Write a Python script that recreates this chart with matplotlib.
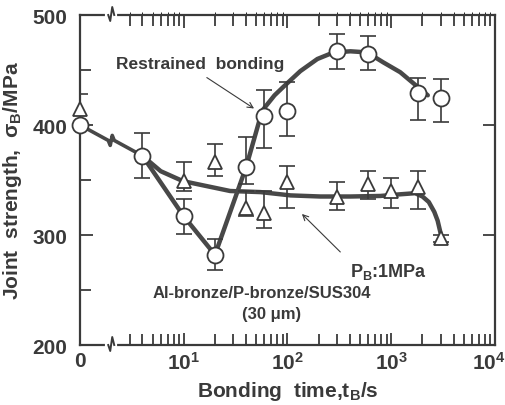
import numpy as np
import matplotlib
matplotlib.use("Agg")
import matplotlib.pyplot as plt
import matplotlib.transforms as mtransforms
from matplotlib.lines import Line2D

# ---------------- data ----------------
# time 0 is drawn at the left edge of the log axis (broken axis)
restr_t = [0, 4, 10, 20, 40, 60, 100, 300, 600, 1800, 3000]
restr_s = [400, 372, 317, 282, 362, 408, 413, 467, 465, 429, 425]
restr_hi = [400, 393, 333, 296, 389, 432, 439, 483, 481, 443, 442]
restr_lo = [400, 352, 301, 268, 346, 379, 390, 451, 450, 405, 403]

press_t = [0, 10, 20, 40, 60, 100, 300, 600, 1000, 1800, 3000]
press_s = [415, 349, 366, 325, 320, 348, 335, 346, 340, 344, 297]
press_hi = [428, 366, 383, 340, 340, 363, 348, 358, 352, 358, 300]
press_lo = [402, 340, 354, 317, 306, 325, 323, 333, 325, 324, 294]

# traced trend curves
shared_t = [0, 4]
shared_s = [400, 372]
trend_r_t = [4, 10, 20, 40, 57, 75, 92, 133, 194, 278, 405, 586, 836, 1220, 1780, 2250]
trend_r_s = [372, 317, 282, 362, 413, 427, 435, 449, 460, 466, 467, 466, 457, 448, 435, 427]
trend_p_t = [4, 6, 9.8, 15.6, 28, 55, 107, 207, 405, 786, 1220, 1700, 2000, 2300, 2600, 2800, 3000]
trend_p_s = [372, 358, 349, 345, 340, 339, 336, 335, 335, 335.5, 337, 338, 335, 330, 321, 313, 301]

x_major = [1, 10, 100, 1000, 10000]
x_major_labels = ["0", "10$^{1}$", "10$^{2}$", "10$^{3}$", "10$^{4}$"]
y_major = [200, 300, 400, 500]
y_minor = [250, 350, 450]

ZERO_POS = 1.0  # where t = 0 sits on the log axis


def tx(ts):
    return [ZERO_POS if t == 0 else t for t in ts]


plt.rcParams['font.family'] = ['Liberation Sans', 'DejaVu Sans']
plt.rcParams['font.weight'] = 'bold'
plt.rcParams['axes.labelweight'] = 'bold'
plt.rcParams['mathtext.fontset'] = 'custom'
plt.rcParams['mathtext.rm'] = 'Liberation Sans:bold'
plt.rcParams['mathtext.bf'] = 'Liberation Sans:bold'
plt.rcParams['mathtext.it'] = 'Liberation Sans:bold:italic'
plt.rcParams['mathtext.default'] = 'rm'

INK = '#3a3a3a'
LINE = '#484848'

fig = plt.figure(figsize=(5.06, 4.06), dpi=100)
ax = fig.add_axes([80 / 506, 60 / 406, 415 / 506, 330 / 406])
ax.set_xscale('log')
ax.set_xlim(1, 1e4)
ax.set_ylim(200, 500)

for sp in ax.spines.values():
    sp.set_linewidth(1.6)
    sp.set_color(INK)

ax.set_xticks(x_major)
ax.set_xticklabels(x_major_labels)
minor = [m * d for d in (1, 10, 100, 1000) for m in range(2, 10)]
minor = [v for v in minor if v >= 3]
ax.set_xticks(minor, minor=True)
ax.xaxis.set_minor_formatter(matplotlib.ticker.NullFormatter())
ax.set_yticks(y_major)
ax.set_yticks(y_minor, minor=True)
ax.tick_params(which='both', direction='in', top=True, right=True,
               color=INK, width=1.3)
ax.tick_params(which='major', length=9, labelsize=15, labelcolor=INK)
ax.tick_params(which='minor', length=7)
ax.tick_params(axis='y', which='major', right=False, pad=9)
ax.tick_params(axis='y', which='minor', right=True, length=8)
ax.tick_params(axis='x', which='major', top=False, pad=4)
ax.tick_params(axis='x', which='minor', length=8)
last = ax.get_xticklabels()[-1]
last.set_transform(last.get_transform() +
                   mtransforms.ScaledTranslation(-6 / 100, 0, fig.dpi_scale_trans))

ax.set_xlabel('Bonding  time,t$_{\\mathregular{B}}$/s', fontsize=15,
              color=INK, labelpad=5)
ax.set_ylabel('Joint  strength,  σ$_{\\mathregular{B}}$/MPa', fontsize=15,
              color=INK, labelpad=6)

# right-side ticks at 300 & 400
ax2 = ax.twinx()
ax2.set_ylim(ax.get_ylim())
ax2.set_yticks([300, 400])
ax2.tick_params(direction='in', length=9, width=1.3, color=INK, labelright=False)
for sp in ax2.spines.values():
    sp.set_visible(False)
# top decade ticks
ax3 = ax.secondary_xaxis('top')
ax3.set_xticks([10, 100, 1000])
ax3.tick_params(direction='in', length=9, width=1.3, color=INK, labeltop=False)
ax3.spines['top'].set_visible(False)

# ---------------- curves ----------------
LW = 3.2
ax.plot(tx(trend_r_t), trend_r_s, color=LINE, lw=LW, solid_capstyle='round',
        solid_joinstyle='round', zorder=2)
ax.plot(tx(trend_p_t), trend_p_s, color=LINE, lw=LW, solid_capstyle='round',
        solid_joinstyle='round', zorder=2)

# ---------------- error bars + markers ----------------
def draw(ts, s, hi, lo, marker, ms):
    x = tx(ts)
    s = np.array(s, float)
    yerr = [s - np.array(lo, float), np.array(hi, float) - s]
    ax.errorbar(x, s, yerr=yerr, fmt='none', ecolor=INK, elinewidth=1.2,
                capsize=5.5, capthick=1.2, zorder=3)
    ax.plot(x, s, linestyle='none', marker=marker, ms=ms, mfc='white',
            mec=INK, mew=1.3, zorder=4, clip_on=False)


draw(press_t, press_s, press_hi, press_lo, '^', 10)
draw(restr_t, restr_s, restr_hi, restr_lo, 'o', 11.5)

# ---------------- text ----------------
ax.text(0.289, 0.852, 'Restrained  bonding', transform=ax.transAxes,
        ha='center', va='center', fontsize=12.5, color=INK)
ax.annotate('', xy=(0.425, 0.712), xytext=(0.30, 0.815),
            xycoords='axes fraction', textcoords='axes fraction',
            arrowprops=dict(arrowstyle='->', color=INK, lw=0.8))
ax.text(0.651, 0.225, 'P$_{\\mathregular{B}}$:1MPa', transform=ax.transAxes,
        ha='left', va='center', fontsize=13, color=INK)
ax.annotate('', xy=(0.530, 0.403), xytext=(0.632, 0.276),
            xycoords='axes fraction', textcoords='axes fraction',
            arrowprops=dict(arrowstyle='->', color=INK, lw=0.8))
ax.text(0.439, 0.158, 'Al-bronze/P-bronze/SUS304', transform=ax.transAxes,
        ha='center', va='center', fontsize=12, color=INK)
ax.text(0.462, 0.094, '(30 μm)', transform=ax.transAxes,
        ha='center', va='center', fontsize=12, color=INK)

# ---------------- axis breaks (drawn in display pixels) ----------------
fig.canvas.draw()
to_disp = ax.transData
axes_disp = ax.transAxes
xb = to_disp.transform((2.0, 300))[0]  # break location
zig = [(-3, 0), (-1, -6), (1, 8), (3, 0)]


def spine_break(yfrac):
    y0 = axes_disp.transform((0, yfrac))[1]
    ax.add_line(Line2D([xb - 4, xb + 4], [y0, y0], transform=None,
                       color='white', lw=3, zorder=10, clip_on=False))
    ax.add_line(Line2D([xb + dx for dx, _ in zig], [y0 + dy for _, dy in zig],
                       transform=None, color=INK, lw=1.4, zorder=11,
                       clip_on=False))


spine_break(0.0)
spine_break(1.0)

# zigzag in the shared 0 -> 4 s segment
p0 = to_disp.transform((tx(shared_t)[0], shared_s[0]))
p1 = to_disp.transform((tx(shared_t)[1], shared_s[1]))
f = (xb - p0[0]) / (p1[0] - p0[0])
yb = p0[1] + f * (p1[1] - p0[1])
zig_line = [(-3, 0), (-1, -5), (1, 5), (3, 0)]
xs = [p0[0]] + [xb + dx for dx, _ in zig_line] + [p1[0]]
ys = [p0[1]] + [yb + dy for _, dy in zig_line] + [p1[1]]
ax.add_line(Line2D(xs, ys, transform=None, color=LINE, lw=2.6,
                   solid_joinstyle='round', solid_capstyle='round', zorder=2))

fig.savefig('out.png', dpi=100)
